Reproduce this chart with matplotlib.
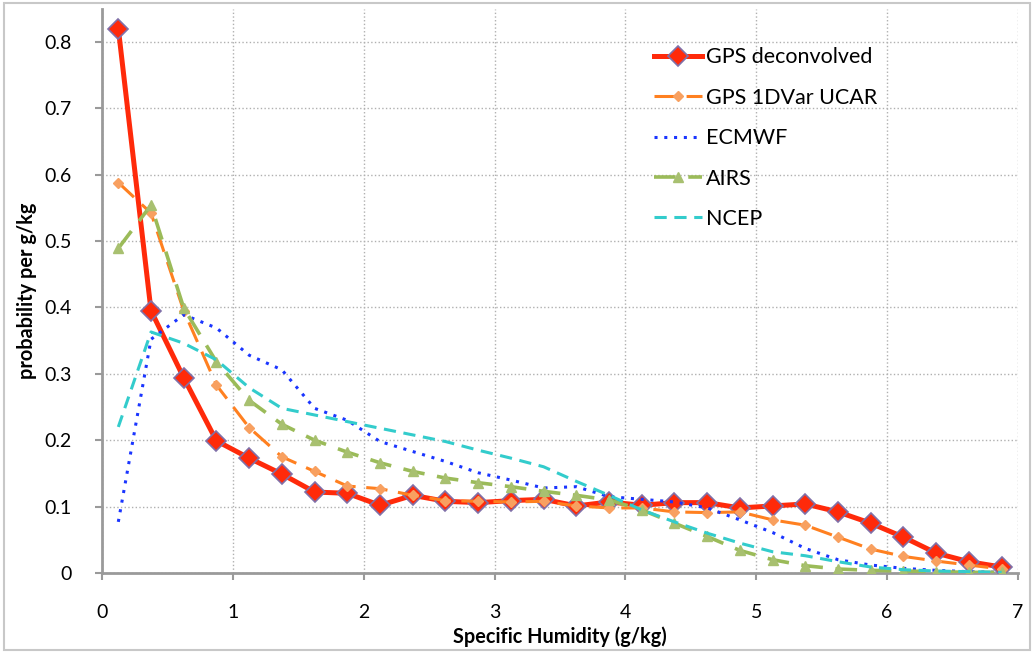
import numpy as np
import matplotlib.pyplot as plt
from matplotlib.patches import Rectangle

plt.rcParams['font.family'] = ['Lato', 'DejaVu Sans']

# bin centres (g/kg)
x = np.arange(0.125, 7.0, 0.25)

gps_deconv = [0.82, 0.395, 0.294, 0.199, 0.173, 0.149, 0.122, 0.120, 0.102, 0.117,
              0.108, 0.106, 0.109, 0.111, 0.101, 0.107, 0.102, 0.106, 0.106, 0.098,
              0.101, 0.104, 0.092, 0.075, 0.054, 0.030, 0.017, 0.009]
gps_1dvar = [0.588, 0.542, 0.395, 0.283, 0.219, 0.175, 0.153, 0.131, 0.127, 0.117,
             0.109, 0.108, 0.107, 0.108, 0.101, 0.098, 0.098, 0.092, 0.091, 0.092,
             0.080, 0.072, 0.054, 0.036, 0.025, 0.018, 0.012, 0.006]
ecmwf = [0.077, 0.352, 0.389, 0.369, 0.328, 0.306, 0.248, 0.230, 0.198, 0.183,
         0.168, 0.151, 0.140, 0.128, 0.130, 0.115, 0.111, 0.107, 0.098, 0.080,
         0.061, 0.037, 0.020, 0.012, 0.007, 0.004, 0.002, 0.001]
airs = [0.489, 0.554, 0.399, 0.318, 0.260, 0.224, 0.200, 0.182, 0.166, 0.153,
        0.143, 0.136, 0.130, 0.123, 0.117, 0.110, 0.095, 0.075, 0.055, 0.034,
        0.020, 0.011, 0.006, 0.004, 0.003, 0.002, 0.001, 0.001]
ncep = [0.220, 0.363, 0.346, 0.321, 0.279, 0.248, 0.238, 0.228, 0.218, 0.208,
        0.198, 0.185, 0.173, 0.160, 0.138, 0.117, 0.095, 0.077, 0.060, 0.045,
        0.032, 0.026, 0.017, 0.009, 0.005, 0.003, 0.002, 0.001]

fig = plt.figure(figsize=(10.34, 6.53), dpi=100)
ax = fig.add_axes([0.0986, 0.1225, 0.8859, 0.8643])

ax.plot(x, gps_deconv, color='#ff2a0a', lw=3.6, marker='D', ms=10,
        mfc='#ff2a0a', mec='#8070a8', mew=1.2, label='GPS deconvolved', zorder=3)
ax.plot(x, gps_1dvar, color='#ff8020', lw=2.2, dashes=(7, 3.5), marker='D', ms=5.5,
        mfc='#f8a060', mec='#f8a060', label='GPS 1DVar UCAR', zorder=4)
ax.plot(x, ecmwf, color='#1a35ff', lw=2.2, ls=(0, (1, 2.2)),
        label='ECMWF', zorder=5)
ax.plot(x, airs, color='#9bbb59', lw=2.6, dashes=(6, 3.5), marker='^', ms=7,
        mfc='#a8c070', mec='#a8c070', label='AIRS', zorder=6)
ax.plot(x, ncep, color='#33cccc', lw=2.2, dashes=(4, 2.5),
        label='NCEP', zorder=7)

ax.set_xlim(0, 7)
ax.set_ylim(0, 0.85)
ax.set_xticks(range(0, 8))
ax.set_yticks(np.arange(0, 0.81, 0.1))
ax.set_yticklabels(['0'] + ['%.1f' % v for v in np.arange(0.1, 0.81, 0.1)])
ax.grid(True, color='#b0b0b0', ls=':', lw=1)
ax.set_axisbelow(True)

for s in ['top', 'right']:
    ax.spines[s].set_visible(False)
for s in ['left', 'bottom']:
    ax.spines[s].set_color('#9a9a9a')
    ax.spines[s].set_linewidth(2)
ax.tick_params(axis='both', colors='#9a9a9a', labelcolor='black',
               labelsize=14, length=5, width=1.5, pad=17)

ax.set_xlabel('Specific Humidity (g/kg)', fontsize=14.3, fontweight='bold', labelpad=4)
ax.set_ylabel('probability per g/kg', fontsize=14.3, fontweight='bold', labelpad=5)

leg = ax.legend(loc='upper left', bbox_to_anchor=(0.582, 0.966), frameon=False,
                fontsize=15.5, handlelength=2.2, handletextpad=0.2, labelspacing=0.95)

fig.patches.append(Rectangle((0.004, 0.004), 0.992, 0.992, transform=fig.transFigure,
                             fill=False, ec='#c8c8c8', lw=1.5))

fig.savefig('out.png', dpi=100)
